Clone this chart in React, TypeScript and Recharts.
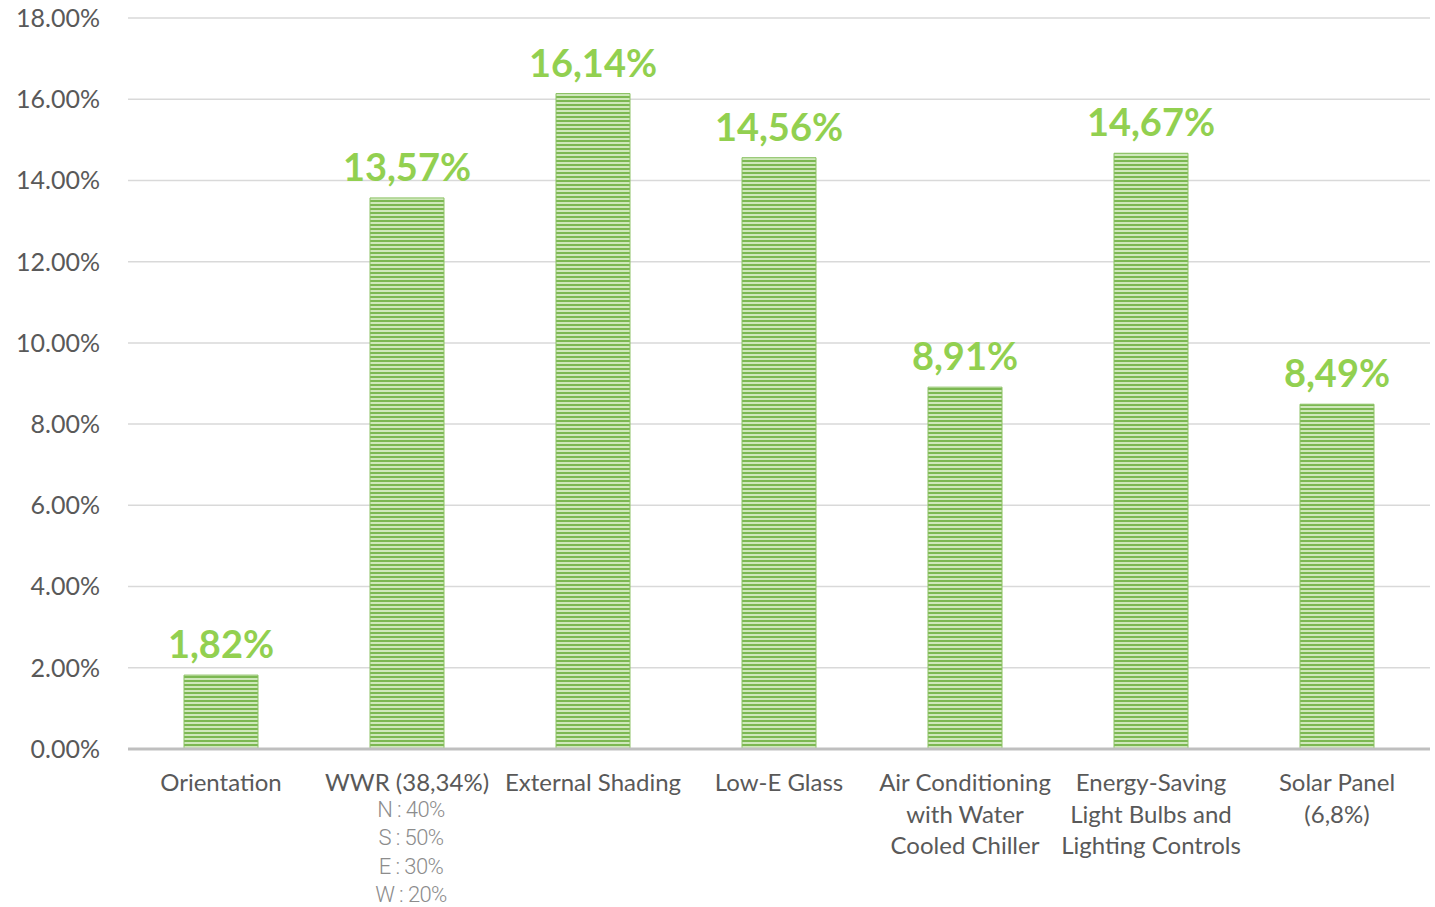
import { BarChart, Bar, XAxis, YAxis, CartesianGrid, LabelList } from 'recharts'

const categories = [
  ['Orientation'],
  ['WWR (38,34%)'],
  ['External Shading'],
  ['Low-E Glass'],
  ['Air Conditioning', 'with Water', 'Cooled Chiller'],
  ['Energy-Saving', 'Light Bulbs and', 'Lighting Controls'],
  ['Solar Panel', '(6,8%)'],
]
const savings = [1.82, 13.57, 16.14, 14.56, 8.91, 14.67, 8.49]
const wwrDetails = ['N : 40%', 'S : 50%', 'E : 30%', 'W : 20%']
const yTicks = [0, 2, 4, 6, 8, 10, 12, 14, 16, 18]

const data = categories.map((lines, i) => ({
  key: String(i),
  lines,
  value: savings[i],
  details: i === 1 ? wwrDetails : [],
}))

const FONT = 'Lato, "Open Sans", sans-serif'

function CategoryTick({ x, y, payload }: any) {
  const row = data[Number(payload.value)]
  return (
    <g transform={`translate(${x},${y})`}>
      {row.lines.map((line, i) => (
        <text
          key={i}
          x={0}
          y={34 + i * 31.5}
          textAnchor="middle"
          fontFamily={FONT}
          fontSize={24}
          fill="#595959"
        >
          {line}
        </text>
      ))}
      {row.details.map((line, i) => (
        <text
          key={'d' + i}
          x={4}
          y={60 + i * 28.3}
          textAnchor="middle"
          fontFamily="Roboto, sans-serif"
          fontWeight={300}
          fontSize={22}
          fill="#8c8c8c"
          style={{ letterSpacing: '-0.6px' }}
        >
          {line}
        </text>
      ))}
    </g>
  )
}

export default function App() {
  return (
    <div style={{ position: 'absolute', left: 0, top: 0, background: '#fff' }}>
      <BarChart
        width={1435}
        height={907}
        data={data}
        margin={{ top: 18, right: 5, left: 0, bottom: 0 }}
        barCategoryGap={0}
      >
        <defs>
          <pattern id="stripes" width="8" height="4" patternUnits="userSpaceOnUse">
            <rect width="8" height="4" fill="#cfe8bb" />
            <rect width="8" height="2" fill="#7cb852" />
          </pattern>
        </defs>
        <CartesianGrid vertical={false} stroke="#d9d9d9" strokeWidth={1.5} />
        <XAxis
          dataKey="key"
          axisLine={{ stroke: '#bfbfbf', strokeWidth: 3 }}
          tickLine={false}
          tick={<CategoryTick />}
          interval={0}
          height={158}
        />
        <YAxis
          domain={[0, 18]}
          ticks={yTicks}
          axisLine={false}
          tickLine={false}
          width={128}
          tickMargin={22}
          tickFormatter={(v) => `${v.toFixed(2)}%`}
          tick={{ fontFamily: FONT, fontSize: 25, fill: '#595959' }}
        />
        <Bar
          dataKey="value"
          barSize={74}
          fill="url(#stripes)"
          stroke="#8cc265"
          strokeWidth={1}
          isAnimationActive={false}
        >
          <LabelList
            dataKey="value"
            position="top"
            offset={17}
            formatter={(v: any) => `${Number(v).toFixed(2).replace('.', ',')}%`}
            style={{ fontFamily: FONT, fontSize: 38, fontWeight: 700, fill: '#92d050' }}
          />
        </Bar>
      </BarChart>
    </div>
  )
}
